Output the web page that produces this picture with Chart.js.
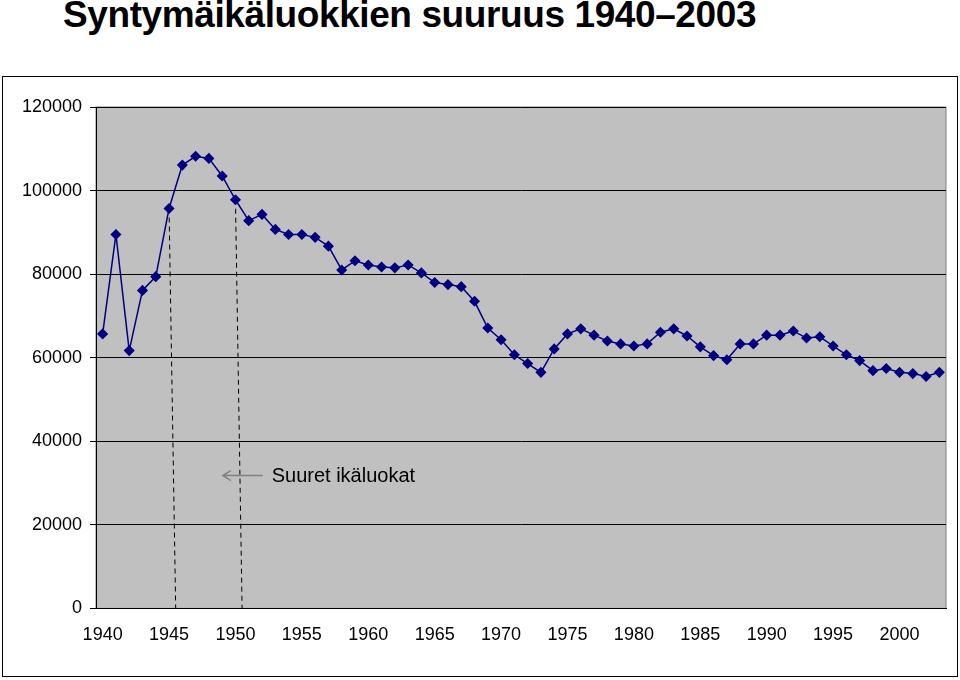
<!DOCTYPE html>
<html><head><meta charset="utf-8">
<script src="https://cdn.jsdelivr.net/npm/chart.js@4"></script>
<style>
body{margin:0;background:#fff;font-family:"Liberation Sans",Arial,sans-serif;}
h1{position:absolute;left:63px;top:-6px;margin:0;font-size:37px;font-weight:bold;letter-spacing:-0.4px}
#box{position:absolute;left:2px;top:76px;width:954px;height:599px;border:1px solid #000;}
canvas{position:absolute;left:0;top:0}
</style></head><body>
<h1>Syntymäikäluokkien suuruus 1940–2003</h1>
<div id="box"><canvas id="c" width="954" height="599"></canvas></div>
<script>
const years = [];
for (let y = 1940; y <= 2003; y++) years.push(y);
const births = [65700,89500,61700,76100,79400,95700,106100,108200,107700,103500,
97800,92800,94300,90700,89500,89500,88800,86700,81000,83200,
82200,81700,81500,82200,80300,78000,77500,77000,73500,67100,
64300,60700,58600,56500,62100,65700,66900,65400,64000,63300,
62800,63300,66100,66900,65200,62600,60500,59500,63300,63300,
65400,65400,66400,64700,65000,62800,60700,59300,56900,57400,
56500,56200,55500,56500];
const tickYears = [1940,1945,1950,1955,1960,1965,1970,1975,1980,1985,1990,1995,2000];
const yTicks = [0,20000,40000,60000,80000,100000,120000];
const label = "Suuret ikäluokat";

const bgPlugin = {id:'bg', beforeDraw(ch){const a=ch.chartArea,c=ch.ctx;c.save();c.fillStyle='#c0c0c0';c.fillRect(a.left,a.top,a.right-a.left,a.bottom-a.top);c.strokeStyle='#808080';c.strokeRect(a.left,a.top,a.right-a.left,a.bottom-a.top);c.restore();},
 afterDatasetsDraw(ch){const c=ch.ctx,x=ch.scales.x,y=ch.scales.y;const yy=y.getPixelForValue(31800);const x1=x.getPixelForValue(1949.05),x2=x.getPixelForValue(1952.05);
 c.save();c.strokeStyle='#808080';c.lineWidth=1.5;c.beginPath();c.moveTo(x2,yy);c.lineTo(x1,yy);c.moveTo(x1+8,yy-5);c.lineTo(x1,yy);c.lineTo(x1+8,yy+5);c.stroke();
 c.fillStyle='#000';c.font='20px "Liberation Sans",Arial';c.textBaseline='middle';c.fillText(label,x2+9,yy+1);c.restore();}};

new Chart(document.getElementById('c'),{
 type:'line',
 data:{datasets:[
  {data:years.map((v,i)=>({x:v,y:births[i]})),borderColor:'#000080',backgroundColor:'#000080',borderWidth:1.5,pointStyle:'rectRot',pointRadius:4.5,tension:0},
  {data:[{x:1945,y:births[5]},{x:1945.5,y:0}],borderColor:'#000',borderWidth:1,borderDash:[5,4],pointRadius:0},
  {data:[{x:1950,y:births[10]},{x:1950.5,y:0}],borderColor:'#000',borderWidth:1,borderDash:[5,4],pointRadius:0}
 ]},
 options:{responsive:false,animation:false,
  layout:{padding:{left:0,right:11,top:30,bottom:22}},
  plugins:{legend:{display:false},tooltip:{enabled:false}},
  scales:{
   x:{type:'linear',min:1939.5,max:2003.5,
    afterBuildTicks(s){s.ticks=tickYears.map(v=>({value:v}));},
    ticks:{color:'#000',font:{size:18,family:'"Liberation Sans",Arial'},maxRotation:0,autoSkip:false,padding:8,callback:v=>String(v)},
    grid:{display:false,drawTicks:true},border:{color:'#000'}},
   y:{min:0,max:120000,
    afterBuildTicks(s){s.ticks=yTicks.map(v=>({value:v}));},
    ticks:{color:'#000',font:{size:18,family:'"Liberation Sans",Arial'},padding:8,callback:v=>String(v)},
    afterFit(s){s.width=93;},
    grid:{color:'#000',tickLength:6},border:{color:'#000'}}
  }},
 plugins:[bgPlugin]
});
</script></body></html>
